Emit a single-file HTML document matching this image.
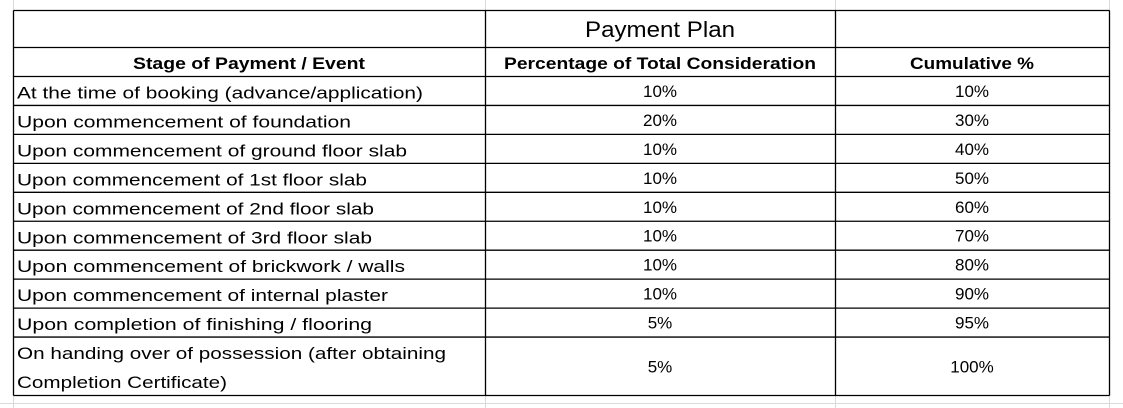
<!DOCTYPE html>
<html><head><meta charset="utf-8"><style>
html,body{margin:0;padding:0;background:#fff;}
svg{display:block;font-family:"Liberation Sans",Carlito,sans-serif;}
</style></head><body>
<svg width="1123" height="408" viewBox="0 0 1123 408">
<g id="grid" stroke="#dadada" stroke-width="1">
<line x1="13.5" y1="0" x2="13.5" y2="408"/><line x1="485.5" y1="0" x2="485.5" y2="408"/>
<line x1="835.5" y1="0" x2="835.5" y2="408"/><line x1="1109.5" y1="0" x2="1109.5" y2="408"/>
<line x1="0" y1="403.5" x2="1123" y2="403.5"/>
</g>
<g id="rows"></g>
</svg>
<script>
const stages=["At the time of booking (advance/application)","Upon commencement of foundation","Upon commencement of ground floor slab","Upon commencement of 1st floor slab","Upon commencement of 2nd floor slab","Upon commencement of 3rd floor slab","Upon commencement of brickwork / walls","Upon commencement of internal plaster","Upon completion of finishing / flooring"];
const stageWidths=[406,334,390,350,357,355,388,371,355];
const pct=["10%","20%","10%","10%","10%","10%","10%","10%","5%","5%"];
const cum=["10%","30%","40%","50%","60%","70%","80%","90%","95%","100%"];
const NS="http://www.w3.org/2000/svg";
const svg=document.querySelector('svg');
const g=document.getElementById('rows');
function t(x,y,s,opts){const e=document.createElementNS(NS,'text');e.setAttribute('x',x);e.setAttribute('y',y);e.setAttribute('font-size',opts.size||17);e.setAttribute('fill','#000');if(opts.anchor)e.setAttribute('text-anchor',opts.anchor);if(opts.bold)e.setAttribute('font-weight','bold');if(opts.len){e.setAttribute('textLength',opts.len);e.setAttribute('lengthAdjust','spacingAndGlyphs');}e.textContent=s;g.appendChild(e);return e;}
function ln(x1,y1,x2,y2){const e=document.createElementNS(NS,'line');e.setAttribute('x1',x1);e.setAttribute('y1',y1);e.setAttribute('x2',x2);e.setAttribute('y2',y2);e.setAttribute('stroke','#000');e.setAttribute('stroke-width','1.3');g.appendChild(e);return e;}
const X=[13.5,485.5,835.5,1109.5];
const rowY=[10.5,47.5,76.5];
for(let i=1;i<=9;i++)rowY.push(76.5+i*28.95);
rowY.push(395.5);
rowY.forEach(y=>{const l=ln(X[0],y,X[3],y);

});
X.forEach(x=>{const l=ln(x,rowY[0],x,rowY[rowY.length-1]);

});
let e=t(660,37,"Payment Plan",{size:22,anchor:'middle',len:150});


e=t(249,69,"Stage of Payment / Event",{bold:true,anchor:'middle',len:232});


e=t(660,69,"Percentage of Total Consideration",{bold:true,anchor:'middle',len:312});


e=t(972,69,"Cumulative %",{bold:true,anchor:'middle',len:124});


for(let i=0;i<10;i++){
 const top=rowY[i+2],bot=rowY[i+3];
 if(i<9){const base=top+22;
  e=t(17,base,stages[i],{len:stageWidths[i]});
  
  
 } else {
  e=t(17,top+22,"On handing over of possession (after obtaining",{len:429});
  
  
  e=t(17,top+51,"Completion Certificate)",{len:210});
  
  
 }
 const mid=(top+bot)/2+6;
 e=t(660,mid,pct[i],{anchor:'middle'});
 
 
 e=t(972,mid,cum[i],{anchor:'middle'});
 
 
}
</script>
</body></html>
